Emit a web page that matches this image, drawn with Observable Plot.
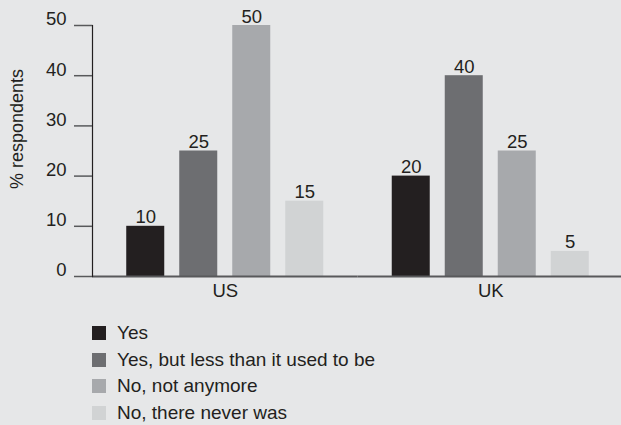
<!DOCTYPE html>
<html>
<head>
<meta charset="utf-8">
<script src="https://cdn.jsdelivr.net/npm/d3@7"></script>
<script src="https://cdn.jsdelivr.net/npm/@observablehq/plot@0.6"></script>
<style>
  html, body { margin: 0; padding: 0; background: #e6e7e8; }
  body { width: 621px; height: 425px; overflow: hidden; font-family: "Liberation Sans", Arial, sans-serif; color: #231f20; }
  #chart svg { display: block; overflow: visible; }
  #legend { margin-top: 15px; padding-left: 92px; }
  .row { display: flex; align-items: center; height: 26.6px; font-size: 19px; }
  .sw { width: 14px; height: 14px; margin-right: 11px; flex: none; }
</style>
</head>
<body>
<div id="chart"></div>
<div id="legend"></div>
<script>
const countries = ["US", "UK"];
const answers = ["Yes", "Yes, but less than it used to be", "No, not anymore", "No, there never was"];
const usValues = [10, 25, 50, 15];
const ukValues = [20, 40, 25, 5];
const colors = ["#231f20", "#6d6e71", "#a7a9ac", "#d1d3d4"];
const yTicks = [0, 10, 20, 30, 40, 50];
const yLabel = "% respondents";

const data = [];
answers.forEach((a, i) => data.push({country: "US", answer: a, value: usValues[i]}));
answers.forEach((a, i) => data.push({country: "UK", answer: a, value: ukValues[i]}));

const FS = 18.5;
const plot = Plot.plot({
  width: 621,
  height: 305,
  marginTop: 25,
  marginBottom: 29,
  marginLeft: 92,
  marginRight: -2,
  style: {background: "transparent", fontFamily: "'Liberation Sans', Arial, sans-serif", fontSize: FS + "px", color: "#231f20", overflow: "visible"},
  fx: {domain: countries, padding: 0, label: null, round: false},
  x: {domain: answers, paddingInner: 0.283, paddingOuter: 0.646, axis: null, round: false},
  y: {domain: [0, 50], ticks: yTicks, label: null},
  color: {domain: answers, range: colors},
  marks: [
    Plot.barY(data, {fx: "country", x: "answer", y: "value", fill: "answer"}),
    Plot.text(data, {fx: "country", x: "answer", y: "value", text: d => String(d.value), lineAnchor: "bottom", dy: -3, fill: "#231f20", fontSize: FS}),
    Plot.ruleY([0], {stroke: "#58595b", strokeWidth: 2}),
    Plot.frame({anchor: "left", facetAnchor: "left", stroke: "#231f20", strokeWidth: 1.2}),
    Plot.axisY({ticks: yTicks, tickSize: 18, tickFormat: () => "", label: null, stroke: "#58595b", strokeWidth: 1.5}),
    Plot.axisY({ticks: yTicks, tickSize: 0, tickPadding: 26, dy: -6, label: null, fill: "#231f20", fontSize: FS}),
    Plot.axisFx({anchor: "bottom", tickSize: 0, tickPadding: 7, label: null, fill: "#231f20", fontSize: FS}),
    Plot.text([yLabel], {frameAnchor: "left", textAnchor: "middle", text: d => d, rotate: -90, dx: -75, dy: -22, facetAnchor: "left", fill: "#231f20", fontSize: 18})
  ]
});
document.getElementById("chart").appendChild(plot);

const legend = document.getElementById("legend");
answers.forEach((a, i) => {
  const row = document.createElement("div");
  row.className = "row";
  const sw = document.createElement("div");
  sw.className = "sw";
  sw.style.background = colors[i];
  const t = document.createElement("span");
  t.textContent = a;
  row.appendChild(sw);
  row.appendChild(t);
  legend.appendChild(row);
});
</script>
</body>
</html>
